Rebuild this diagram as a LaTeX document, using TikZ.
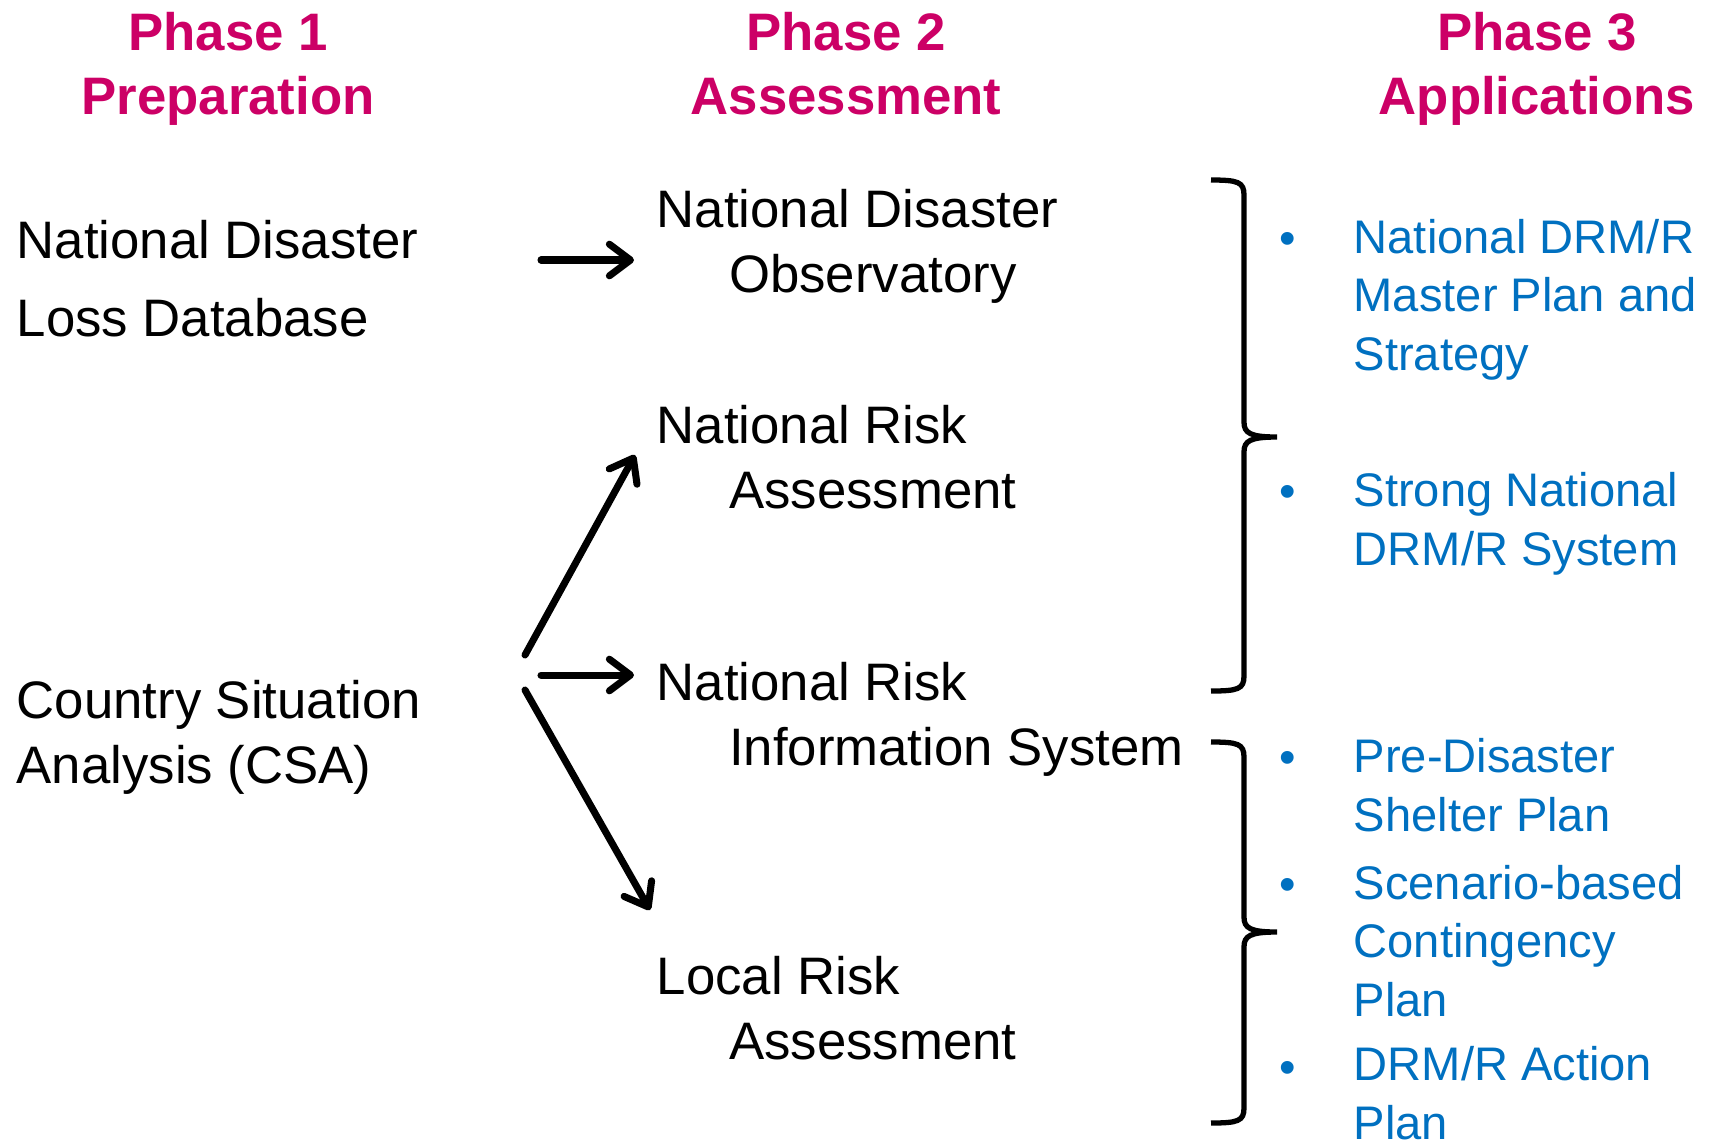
\documentclass[tikz,border=0pt]{standalone}
\usepackage{fontspec}
\setmainfont{Liberation Sans}
\usepackage{tikz}
\usetikzlibrary{arrows.meta}
\definecolor{Magenta}{HTML}{CC0066}
\definecolor{Azure}{HTML}{0070C0}

\begin{document}
\begin{tikzpicture}[x=0.01cm, y=-0.01cm, >={Straight Barb[length=6pt,width=9pt,round]}]
\tikzset{head/.style={anchor=base, align=center, inner sep=0pt, text=Magenta, font=\fontsize{15}{18.2}\selectfont\bfseries}, item/.style={anchor=base west, align=left, inner sep=0pt, font=\fontsize{15}{18.3}\selectfont}, app/.style={anchor=base west, align=left, inner sep=0pt, text=Azure, font=\fontsize{13.4}{16.5}\selectfont}, dot/.style={anchor=base, inner sep=0pt, text=Azure, font=\fontsize{13.4}{16.5}\selectfont}, link/.style={->, line width=2pt, line cap=round}, brace/.style={line width=1.5pt}}
\useasboundingbox (0,0) rectangle (1714,1141);
% phase headings (placed at the baseline of the last line)
\node[head] (ph1) at (228,114) {Phase 1\\Preparation};
\node[head] (ph2) at (846,114) {Phase 2\\Assessment};
\node[head] (ph3) at (1537,114) {Phase 3\\Applications};
% phase 1
\node[item, font=\fontsize{15}{22}\selectfont] (ldb) at (16,336) {National Disaster\\Loss Database};
\node[item] (csa) at (16,783) {Country Situation\\Analysis (CSA)};
% phase 2
\node[item] (ndo) at (656,292) {National Disaster\\\hspace*{20.6pt}Observatory};
\node[item] (nra) at (656,508) {National Risk\\\hspace*{20.6pt}Assessment};
\node[item] (nris) at (656,765) {National Risk\\\hspace*{20.6pt}Information System};
\node[item] (lra) at (656,1059) {Local Risk\\\hspace*{20.6pt}Assessment};
% phase 3
\node[dot] (b1) at (1288,254) {•}; \node[app] (plan) at (1353,370) {National DRM/R\\Master Plan and\\Strategy};
\node[dot] (b2) at (1288,507) {•}; \node[app] (sys) at (1353,565) {Strong National\\DRM/R System};
\node[dot] (b3) at (1288,773) {•}; \node[app] (shelter) at (1353,831) {Pre-Disaster\\Shelter Plan};
\node[dot] (b4) at (1288,900) {•}; \node[app] (cont) at (1353,1016) {Scenario-based\\Contingency\\Plan};
\node[dot] (b5) at (1288,1083) {•}; \node[app] (action) at (1353,1139) {DRM/R Action\\Plan};
% arrows
\coordinate (ldb-out) at (541,260); \coordinate (ndo-in) at (634,260);
\coordinate (csa-up) at (525,655); \coordinate (nra-in) at (635,455);
\coordinate (csa-mid) at (541,675); \coordinate (nris-in) at (634,675);
\coordinate (csa-down) at (525,690); \coordinate (lra-in) at (650,910);
\draw[link] (ldb-out)--(ndo-in); \draw[link] (csa-up)--(nra-in); \draw[link] (csa-mid)--(nris-in); \draw[link] (csa-down)--(lra-in);
% braces
\draw[brace] (1211,180) .. controls (1238,180) and (1244,182) .. (1244,195) -- (1244,422) .. controls (1244,433) and (1250,437) .. (1277,437) .. controls (1250,437) and (1244,441) .. (1244,452) -- (1244,676) .. controls (1244,689) and (1238,691) .. (1211,691);
\draw[brace] (1211,742) .. controls (1238,742) and (1244,744) .. (1244,757) -- (1244,917) .. controls (1244,928) and (1250,932) .. (1277,932) .. controls (1250,932) and (1244,936) .. (1244,947) -- (1244,1108) .. controls (1244,1121) and (1238,1123) .. (1211,1123);
\end{tikzpicture}
\end{document}
